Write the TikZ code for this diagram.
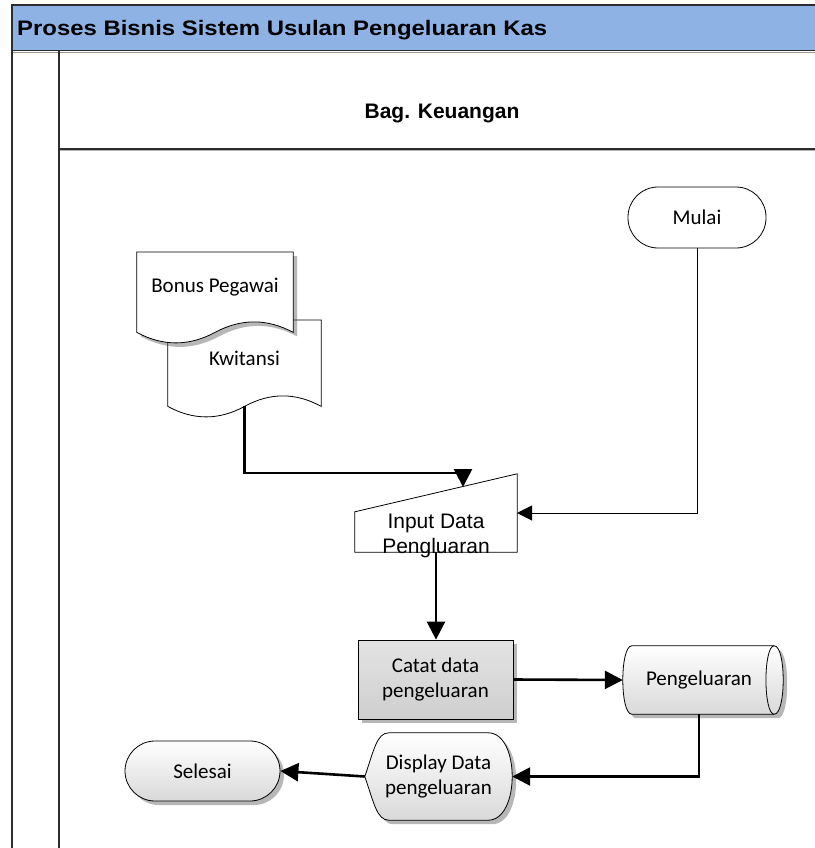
\documentclass[tikz,border=0pt]{standalone}
\usepackage{fontspec}
\usepackage{graphicx}
\setmainfont{Carlito}
\newfontfamily\arialfont{Liberation Sans}
\usetikzlibrary{positioning,arrows.meta,shadows,calc,backgrounds}

\definecolor{poolblue}{RGB}{141,178,227}
\definecolor{frameline}{RGB}{45,45,45}

% wavy document outline round a node, base line 10pt under its south side
\newcommand{\docoutline}[2]{%
  \draw[line width=0.8pt, fill=white, #2]
    (#1.north west) -- (#1.north east) -- ($(#1.south east)+(0,10)$)
    .. controls ($(#1.south east)!0.1667!(#1.south west)+(0,-4)$)
            and ($(#1.south east)!0.3333!(#1.south west)+(0,-4)$) .. ($(#1.south)+(0,10)$)
    .. controls ($(#1.south east)!0.6667!(#1.south west)+(0,24)$)
            and ($(#1.south east)!0.8333!(#1.south west)+(0,24)$) .. ($(#1.south west)+(0,10)$)
    -- cycle;}

\begin{document}
\begin{tikzpicture}[
  x=1pt, y=-1pt,
  txt/.style={font=\fontsize{21}{25}\selectfont, align=center, inner sep=0pt},
  head/.style={font=\arialfont\bfseries\fontsize{21}{25}\selectfont, inner sep=0pt},
  shade1/.style={top color=white, bottom color=black!15},
  shadow1/.style={drop shadow={shadow xshift=4pt, shadow yshift=-4pt,
                  opacity=.4, fill=black!70}},
  terminal/.style={txt, draw, line width=0.8pt, rounded corners=30pt,
                   minimum width=#1, minimum height=61pt},
  flow/.style={line width=2.6pt, -{Triangle[length=18pt,width=18pt]}},
  thinflow/.style={line width=1pt, -{Triangle[length=15pt,width=15pt]}}
]
\useasboundingbox (0,0) rectangle (814,848);

% ── pool and lane headings ───────────────────────────────────────────
\node[head, anchor=base west] (pooltitle) at (17,36)
     {\scalebox{1.138}[1]{Proses Bisnis Sistem Usulan Pengeluaran Kas}};
\node[head, anchor=base] (lanetitle) at (442,118) {Bag. Keuangan};

% ── steps ────────────────────────────────────────────────────────────
\node[terminal=138pt, fill=white] (mulai) at (697,217.5) {Mulai};
\node[txt, minimum width=153pt, minimum height=76pt, anchor=north]
     (kwitansi) at (244.5,320) {Kwitansi};
\node[txt, minimum width=156pt, minimum height=70pt, anchor=north]
     (bonus) at (215,252) {Bonus Pegawai};
\node[txt, font=\arialfont\fontsize{21}{25}\selectfont,
      minimum width=162pt, minimum height=48pt]
     (input) at (436,536) {Input Data\\Pengluaran};
\node[txt, draw, line width=0.8pt, top color=black!11, bottom color=black!19,
      shadow1, minimum width=155pt, minimum height=79pt]
     (catat) at (435.5,679.5) {Catat data\\pengeluaran};
\node[txt, minimum width=152pt, minimum height=68pt] (pgl) at (699,680) {Pengeluaran};
\node[txt, minimum width=147pt, minimum height=87pt]
     (display) at (438.5,776.5) {Display Data\\pengeluaran};
\node[terminal=155pt, minimum height=60pt, shade1, shadow1]
     (selesai) at (202.5,771) {Selesai};

\coordinate (kwfoot)  at ($(kwitansi.south)+(0,10)$);
\coordinate (inbend)  at (463,473);
\coordinate (intop)   at (463,487);
\coordinate (inright) at (517,513);
\coordinate (infoot)  at ($(input.south)+(0,-8)$);

% ── frame and outlines behind the texts ──────────────────────────────
\begin{scope}[on background layer]
  \fill[poolblue] (12,5) rectangle (816,51);
  \draw[frameline, line width=2pt] (12,5) -- (816,5);
  \draw[black!40, line width=1.2pt] (12,52.6) -- (816,52.6);
  \draw[frameline, line width=1.8pt] (12,50.5) -- (816,50.5);
  \draw[frameline, line width=1.6pt] (12,4) -- (12,850);
  \draw[frameline, line width=1.6pt] (59,51) -- (59,850);
  \draw[black!30, line width=1pt] (60,150.6) -- (816,150.6);
  \draw[frameline, line width=1.6pt] (59,149) -- (816,149);

  \docoutline{kwitansi}{}
  \docoutline{bonus}{shadow1}

  \draw[line width=0.8pt, fill=white]
    (input.north west) -- ($(input.north east)+(0,-38)$)
    -- ($(input.south east)+(0,-8)$) -- ($(input.south west)+(0,-8)$) -- cycle;

  \draw[line width=0.8pt, shade1, shadow1]
    ($(pgl.north west)+(9,0)$) -- ($(pgl.north east)+(-1,0)$)
    .. controls ($(pgl.north east)+(11,0)$) and ($(pgl.south east)+(11,0)$)
    .. ($(pgl.south east)+(-1,0)$) -- ($(pgl.south west)+(9,0)$)
    .. controls ($(pgl.south west)+(-3,0)$) and ($(pgl.north west)+(-3,0)$)
    .. ($(pgl.north west)+(9,0)$) -- cycle;
  \draw[line width=0.8pt]
    ($(pgl.north east)+(-1,0)$)
    .. controls ($(pgl.north east)+(-12,0)$) and ($(pgl.south east)+(-12,0)$)
    .. ($(pgl.south east)+(-1,0)$);

  \draw[line width=0.8pt, shade1, shadow1]
    (display.west)
    .. controls ($(display.west)+(9,-26)$) and ($(display.north west)+(12,0)$)
    .. ($(display.north west)+(24,0)$) -- ($(display.north east)+(-24,0)$)
    .. controls ($(display.north east)+(8,0)$) and ($(display.south east)+(8,0)$)
    .. ($(display.south east)+(-24,0)$) -- ($(display.south west)+(24,0)$)
    .. controls ($(display.south west)+(12,0)$) and ($(display.west)+(9,26)$)
    .. (display.west) -- cycle;
\end{scope}

% ── flows ────────────────────────────────────────────────────────────
\draw[flow] (kwfoot) |- (inbend) -- (intop);
\draw[thinflow] (mulai.south) |- (inright);
\draw[flow] (infoot) -- (infoot |- catat.north);
\draw[flow] (catat.east) -- (pgl.west);
\draw[flow] (pgl.south) |- (display.east);
\draw[flow] (display.west) -- (selesai.east);

\end{tikzpicture}
\end{document}
